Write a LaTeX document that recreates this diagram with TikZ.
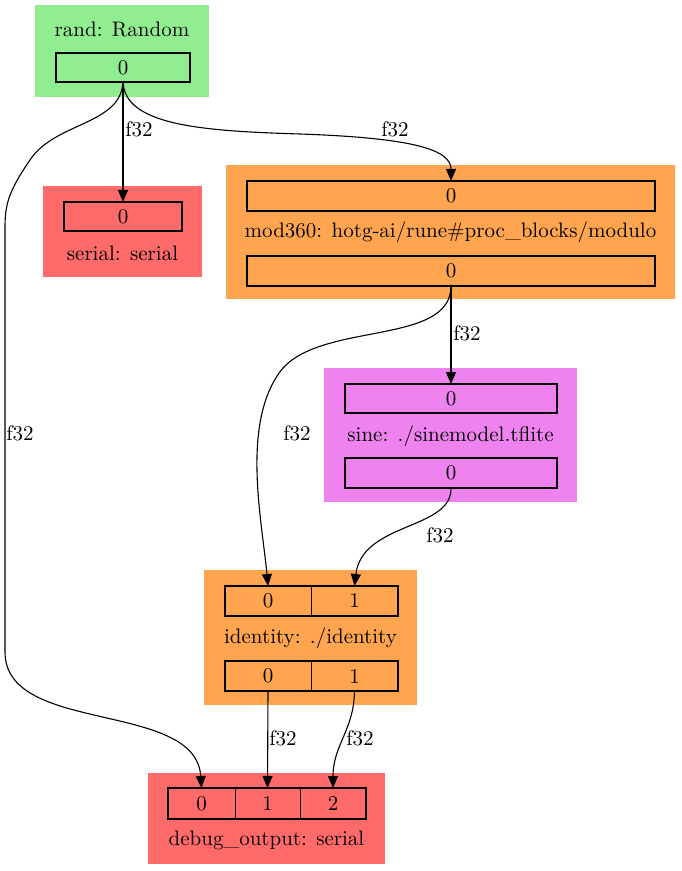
\documentclass[tikz,border=0pt]{standalone}
\usetikzlibrary{fit,arrows.meta}
\definecolor{cgreen}{HTML}{90EE90}
\definecolor{cred}{HTML}{FF6A6A}
\definecolor{corange}{HTML}{FFA54F}
\definecolor{cviolet}{HTML}{EE82EE}
\begin{document}
\begin{tikzpicture}[x=0.5pt,y=-0.5pt,
  font=\fontsize{10.5}{12}\selectfont,
  cluster/.style={inner sep=0pt,outer sep=0pt,draw=none},
  cell/.style={inner sep=0pt,outer sep=0pt,draw=black,line width=0.5pt},
  frame/.style={inner sep=0pt,outer sep=0pt,draw=black,line width=1.1pt},
  title/.style={inner sep=0pt,anchor=center},
  ptxt/.style={inner sep=0pt,anchor=center},
  lbl/.style={inner sep=0pt,anchor=center},
  edge/.style={draw=black,line width=0.55pt,-{Triangle[length=6pt,width=5pt]}}]
\useasboundingbox (0,0) rectangle (681,871);
% clusters
\node[cluster,fill=cgreen,fit={(35,5)(209,97)}] (rand) {};
\node[cluster,fill=cred,fit={(43,186)(202,277)}] (serial) {};
\node[cluster,fill=corange,fit={(226,165)(675,299)}] (mod) {};
\node[cluster,fill=cviolet,fit={(324,368)(577,502)}] (sine) {};
\node[cluster,fill=corange,fit={(204,570)(417,705)}] (ident) {};
\node[cluster,fill=cred,fit={(148,773)(385,864)}] (debug) {};
% titles
\node[title] (trand) at (122,29) {rand: Random};
\node[title] (tserial) at (122.5,253) {serial: serial};
\node[title] (tmod) at (450.5,232) {mod360: hotg-ai/rune\#proc\_blocks/modulo};
\node[title] (tsine) at (450.5,436) {sine: ./sinemodel.tflite};
\node[title] (tident) at (310.5,638) {identity: ./identity};
\node[title] (tdebug) at (266.5,840) {debug\_output: serial};
% ports
\node[frame,fit={(56,53)(190,82)}] (rand0) {};
\node[frame,fit={(64,202)(182,231)}] (serial0) {};
\node[frame,fit={(247,181)(655,211)}] (modin0) {};
\node[frame,fit={(247,256)(655,286)}] (modout0) {};
\node[frame,fit={(345,384)(557,413)}] (sinein0) {};
\node[frame,fit={(345,458)(557,488)}] (sineout0) {};
\node[cell,fit={(225,586)(311,616)}] (idin0) {};
\node[cell,fit={(311,586)(398,616)}] (idin1) {};
\node[frame,fit={(225,586)(398,616)}] (idinframe) {};
\node[cell,fit={(225,661)(311,691)}] (idout0) {};
\node[cell,fit={(311,661)(398,691)}] (idout1) {};
\node[frame,fit={(225,661)(398,691)}] (idoutframe) {};
\node[cell,fit={(168,788)(235,819)}] (dbg0) {};
\node[cell,fit={(235,788)(300,819)}] (dbg1) {};
\node[cell,fit={(300,788)(366,819)}] (dbg2) {};
\node[frame,fit={(168,788)(366,819)}] (dbgframe) {};
% port texts
\node[ptxt] (trand0) at (rand0.center) {0};
\node[ptxt] (tserial0) at (serial0.center) {0};
\node[ptxt] (tmodin0) at (modin0.center) {0};
\node[ptxt] (tmodout0) at (modout0.center) {0};
\node[ptxt] (tsinein0) at (sinein0.center) {0};
\node[ptxt] (tsineout0) at (sineout0.center) {0};
\node[ptxt] (tidin0) at (idin0.center) {0};
\node[ptxt] (tidin1) at (idin1.center) {1};
\node[ptxt] (tidout0) at (idout0.center) {0};
\node[ptxt] (tidout1) at (idout1.center) {1};
\node[ptxt] (tdbg0) at (dbg0.center) {0};
\node[ptxt] (tdbg1) at (dbg1.center) {1};
\node[ptxt] (tdbg2) at (dbg2.center) {2};
% edges
\draw[edge] (rand0.south) -- (serial0.north);
\draw[edge] (rand0.south) .. controls (125,125) and (200,131) .. (300,134)
  .. controls (415,138) and (451,150) .. (modin0.north);
\draw[edge] (rand0.south) .. controls (121,125) and (55,122) .. (30,160)
  .. controls (8,192) and (5,205) .. (5,228) -- (5,652)
  .. controls (5,735) and (196,700) .. (dbg0.north);
\draw[edge] (modout0.south) -- (sinein0.north);
\draw[edge] (modout0.south) .. controls (451,345) and (325,322) .. (283,368)
  .. controls (240,420) and (262,520) .. (idin0.north);
\draw[edge] (sineout0.south) .. controls (452,530) and (362,522) .. (idin1.north);
\draw[edge] (idout0.south) -- (dbg1.north);
\draw[edge] (idout1.south) .. controls (354,730) and (333,745) .. (dbg2.north);
% edge labels
\node[lbl] (l1) at (139,129) {f32};
\node[lbl] (l2) at (395,129) {f32};
\node[lbl] (l3) at (20,433) {f32};
\node[lbl] (l4) at (467,333) {f32};
\node[lbl] (l5) at (297,433) {f32};
\node[lbl] (l6) at (440,535) {f32};
\node[lbl] (l7) at (283,738) {f32};
\node[lbl] (l8) at (360,738) {f32};
\end{tikzpicture}
\end{document}
